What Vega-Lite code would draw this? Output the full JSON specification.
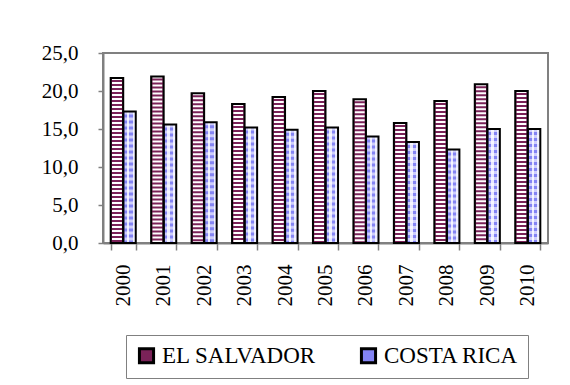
{
  "$schema": "https://vega.github.io/schema/vega-lite/v6.json",
  "width": 445,
  "height": 190,
  "autosize": "none",
  "padding": {"left": 103, "top": 53, "right": 22, "bottom": 142},
  "background": "white",
  "config": {
    "font": "Liberation Serif",
    "axis": {"labelFont": "Liberation Serif"},
    "legend": {"labelFont": "Liberation Serif"},
    "view": {"stroke": "#808080", "strokeWidth": 2}
  },
  "data": {
    "values": [
      {"year": "2000", "country": "EL SALVADOR", "value": 21.7},
      {"year": "2000", "country": "COSTA RICA", "value": 17.3},
      {"year": "2001", "country": "EL SALVADOR", "value": 21.9},
      {"year": "2001", "country": "COSTA RICA", "value": 15.6},
      {"year": "2002", "country": "EL SALVADOR", "value": 19.7},
      {"year": "2002", "country": "COSTA RICA", "value": 15.9},
      {"year": "2003", "country": "EL SALVADOR", "value": 18.3},
      {"year": "2003", "country": "COSTA RICA", "value": 15.2},
      {"year": "2004", "country": "EL SALVADOR", "value": 19.2},
      {"year": "2004", "country": "COSTA RICA", "value": 14.9},
      {"year": "2005", "country": "EL SALVADOR", "value": 20.0},
      {"year": "2005", "country": "COSTA RICA", "value": 15.2},
      {"year": "2006", "country": "EL SALVADOR", "value": 18.9},
      {"year": "2006", "country": "COSTA RICA", "value": 14.0},
      {"year": "2007", "country": "EL SALVADOR", "value": 15.8},
      {"year": "2007", "country": "COSTA RICA", "value": 13.3},
      {"year": "2008", "country": "EL SALVADOR", "value": 18.7},
      {"year": "2008", "country": "COSTA RICA", "value": 12.3},
      {"year": "2009", "country": "EL SALVADOR", "value": 20.9},
      {"year": "2009", "country": "COSTA RICA", "value": 15.0},
      {"year": "2010", "country": "EL SALVADOR", "value": 20.0},
      {"year": "2010", "country": "COSTA RICA", "value": 15.0}
    ]
  },
  "encoding": {
    "x": {
      "field": "year",
      "type": "ordinal",
      "scale": {"paddingInner": 0.38, "paddingOuter": 0.19},
      "axis": {
        "title": null,
        "labelAngle": -90,
        "labelFont": "Liberation Serif",
        "labelFontSize": 21,
        "labelColor": "black",
        "labelPadding": 14,
        "tickBand": "extent",
        "tickSize": 7,
        "tickColor": "#808080",
        "tickWidth": 1.5,
        "domainColor": "#808080",
        "domainWidth": 2
      }
    },
    "xOffset": {
      "field": "country",
      "type": "nominal",
      "scale": {"domain": ["EL SALVADOR", "COSTA RICA"]}
    },
    "y": {
      "field": "value",
      "type": "quantitative",
      "scale": {"domain": [0, 25]},
      "axis": {
        "title": null,
        "values": [0, 5, 10, 15, 20, 25],
        "labelExpr": "replace(format(datum.value,'.1f'),'.',',')",
        "labelFont": "Liberation Serif",
        "labelFontSize": 21,
        "labelColor": "black",
        "labelPadding": 20,
        "tickSize": 5,
        "tickColor": "#808080",
        "tickWidth": 1.5,
        "domainColor": "#808080",
        "domainWidth": 2,
        "grid": false
      }
    }
  },
  "layer": [
    {
      "mark": {"type": "bar"},
      "encoding": {
        "color": {
          "field": "country",
          "type": "nominal",
          "scale": {"domain": ["EL SALVADOR", "COSTA RICA"], "range": ["#7A2258", "#8484F4"]},
          "legend": {
            "title": null,
            "orient": "none",
            "legendX": 23,
            "legendY": 282,
            "direction": "horizontal",
            "labelFontSize": 23,
            "labelFont": "Liberation Serif",
            "labelColor": "black",
            "symbolType": "square",
            "symbolSize": 200,
            "symbolStrokeColor": "black",
            "symbolStrokeWidth": 3,
            "symbolOpacity": 1,
            "strokeColor": "#808080",
            "fillColor": "white",
            "padding": 9,
            "columnPadding": 38,
            "labelOffset": 4
          }
        }
      }
    },
    {
      "transform": [{"filter": "datum.country === 'EL SALVADOR'"}],
      "mark": {"type": "rule", "color": "white", "strokeWidth": 10, "strokeDash": [2, 2]},
      "encoding": {"y2": {"datum": 0}}
    },
    {
      "transform": [{"filter": "datum.country === 'COSTA RICA'"}],
      "mark": {
        "type": "bar",
        "fill": {
          "gradient": "linear",
          "x1": 0, "x2": 1, "y1": 0, "y2": 0,
          "stops": [
            {"offset": 0, "color": "#8484F4"},
            {"offset": 0.3, "color": "#8484F4"},
            {"offset": 0.3, "color": "#E8E8FF"},
            {"offset": 0.5, "color": "#E8E8FF"},
            {"offset": 0.5, "color": "#8484F4"},
            {"offset": 0.75, "color": "#8484F4"},
            {"offset": 0.75, "color": "#E8E8FF"},
            {"offset": 1, "color": "#E8E8FF"}
          ]
        }
      }
    },
    {
      "transform": [{"filter": "datum.country === 'COSTA RICA'"}],
      "mark": {"type": "rule", "color": "white", "opacity": 0.6, "strokeWidth": 10, "strokeDash": [3, 3]},
      "encoding": {"y2": {"datum": 0}}
    },
    {
      "mark": {"type": "bar", "fillOpacity": 0, "stroke": "black", "strokeWidth": 2}
    }
  ]
}
